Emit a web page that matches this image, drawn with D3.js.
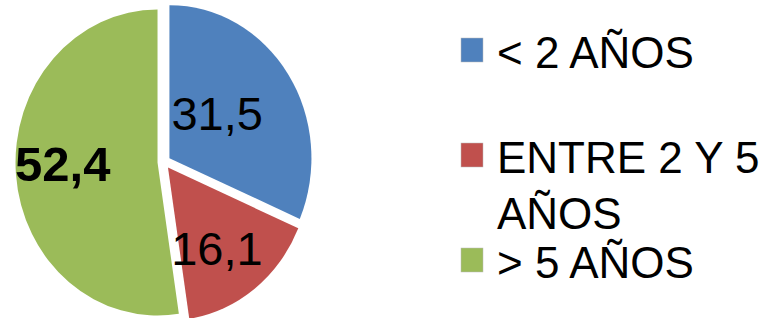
<!DOCTYPE html>
<html>
<head>
<meta charset="utf-8">
<script src="https://cdn.jsdelivr.net/npm/d3@7"></script>
<style>
  body { margin: 0; background: #fff; }
  svg { display: block; font-family: "Liberation Sans", Arial, sans-serif; }
</style>
</head>
<body>
<div id="chart"></div>
<script>
const categories = ["< 2 AÑOS", "ENTRE 2 Y 5 AÑOS", "> 5 AÑOS"];
const values = [31.5, 16.1, 52.4];
const valueLabels = ["31,5", "16,1", "52,4"];
const legendLines = [["< 2 AÑOS"], ["ENTRE 2 Y 5", "AÑOS"], ["> 5 AÑOS"]];

const width = 769, height = 318;
const cx = 164, cy = 162;
const r = 153;          // vertical radius
const sx = 142 / 153;   // picture is squashed a bit horizontally
const explode = 7;

const color = d3.scaleOrdinal()
    .domain(categories)
    .range(["#4F81BD", "#C0504D", "#9BBB59"]);

const data = categories.map((c, i) => ({ name: c, value: values[i], label: valueLabels[i] }));

const pie = d3.pie().sort(null).value(d => d.value);
const arcs = pie(data);
const arc = d3.arc().innerRadius(0).outerRadius(r);

const svg = d3.select("#chart")
    .append("svg")
    .attr("width", width)
    .attr("height", height);

const g = svg.append("g")
    .attr("transform", `translate(${cx},${cy}) scale(${sx},1)`);

g.selectAll("path")
    .data(arcs)
    .join("path")
      .attr("fill", d => color(d.data.name))
      .attr("transform", d => {
          const a = (d.startAngle + d.endAngle) / 2;
          return `translate(${Math.sin(a) * explode},${-Math.cos(a) * explode})`;
      })
      .attr("d", arc);

// label placement, roughly like excel "best fit"
const labelR = [0.47, 0.6, 0.62];
const nudge = [[-8, -5], [-3, 8], [-7, -6]];

svg.append("g")
    .selectAll("text")
    .data(arcs)
    .join("text")
      .attr("x", (d, i) => {
          const a = (d.startAngle + d.endAngle) / 2;
          return cx + (Math.sin(a) * (explode + r * labelR[i])) * sx + nudge[i][0];
      })
      .attr("y", (d, i) => {
          const a = (d.startAngle + d.endAngle) / 2;
          return cy - Math.cos(a) * (explode + r * labelR[i]) + nudge[i][1];
      })
      .attr("dy", "0.35em")
      .attr("text-anchor", "middle")
      .style("font-size", (d, i) => i === 2 ? "49px" : "47px")
      .style("font-weight", (d, i) => i === 2 ? "bold" : "normal")
      .style("fill", "#000")
      .text(d => d.data.label);

// legend
const legendY = d3.scalePoint()
    .domain(categories)
    .range([38, 248]);

const legend = svg.append("g")
    .selectAll("g")
    .data(categories)
    .join("g")
      .attr("transform", d => `translate(461,${legendY(d)})`);

legend.append("rect")
    .attr("width", 22)
    .attr("height", 24)
    .attr("fill", d => color(d))
    .attr("stroke", "#bbb")
    .attr("stroke-width", 0.5);

legend.append("text")
    .attr("x", 36)
    .attr("y", 30)
    .style("font-size", "44px")
    .style("fill", "#000")
    .selectAll("tspan")
    .data((d, i) => legendLines[i])
    .join("tspan")
      .attr("x", 36)
      .attr("dy", (d, i) => i === 0 ? 0 : 56)
      .text(d => d);
</script>
</body>
</html>
